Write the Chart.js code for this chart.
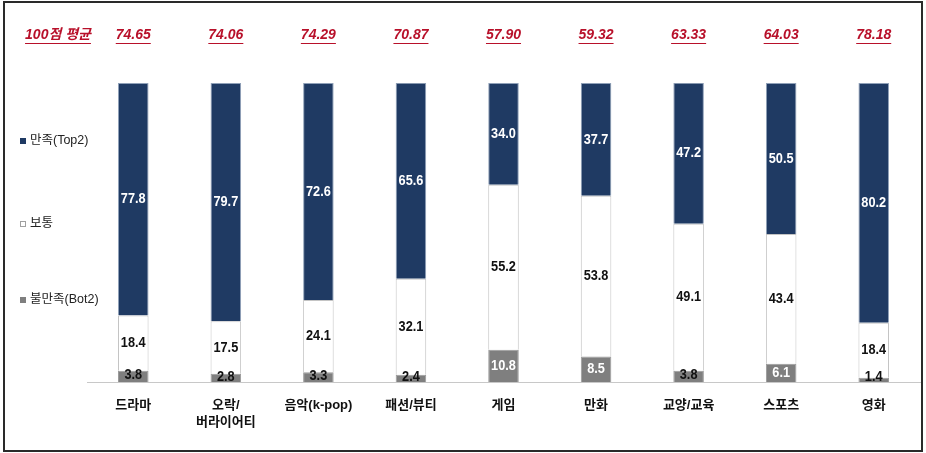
<!DOCTYPE html>
<html>
<head>
<meta charset="utf-8">
<script src="https://cdn.jsdelivr.net/npm/chart.js@4/dist/chart.umd.min.js"></script>
<style>
  body { margin: 0; background: #fff; }
  #wrap { width: 926px; height: 453px; position: relative; }
</style>
</head>
<body>
<div id="wrap"><canvas id="chart" width="926" height="453"></canvas></div>
<script>
// categories and values
const categories = ["드라마", ["오락/", "버라이어티"], "음악(k-pop)", "패션/뷰티", "게임", "만화", "교양/교육", "스포츠", "영화"];
const satisfied = [77.8, 79.7, 72.6, 65.6, 34.0, 37.7, 47.2, 50.5, 80.2];
const neutral = [18.4, 17.5, 24.1, 32.1, 55.2, 53.8, 49.1, 43.4, 18.4];
const dissatisfied = [3.8, 2.8, 3.3, 2.4, 10.8, 8.5, 3.8, 6.1, 1.4];
const averages = ["74.65", "74.06", "74.29", "70.87", "57.90", "59.32", "63.33", "64.03", "78.18"];
const avgTitle = "100점 평균";

const NAVY = "#1f3a63";
const GRAY = "#7f7f7f";
const numFont = "'Liberation Sans', Arial, sans-serif";
const krFont = "'Liberation Sans', 'Noto Sans CJK KR', sans-serif";

// frame, legend, averages and value labels
const extras = {
    id: "extras",
    beforeDraw(chart) {
        const ctx = chart.ctx;
        ctx.save();
        ctx.fillStyle = "#fff";
        ctx.fillRect(0, 0, chart.width, chart.height);
        ctx.restore();
    },
    afterDraw(chart) {
        const ctx = chart.ctx;
        const xs = chart.scales.x;
        ctx.save();

        // outer frame
        ctx.strokeStyle = "#2a2a2a";
        ctx.lineWidth = 2;
        ctx.strokeRect(4, 2, 918, 449);

        // averages row
        ctx.fillStyle = "#b8102a";
        ctx.strokeStyle = "#b8102a";
        ctx.lineWidth = 1;
        ctx.font = "italic bold 14px " + krFont;
        ctx.textAlign = "center";
        ctx.textBaseline = "middle";
        const drawUnder = (txt, x, y) => {
            ctx.fillText(txt, x, y);
            const w = ctx.measureText(txt).width;
            ctx.beginPath();
            ctx.moveTo(x - w / 2, y + 8.5);
            ctx.lineTo(x + w / 2, y + 8.5);
            ctx.stroke();
        };
        drawUnder(avgTitle, 58, 35);
        averages.forEach((a, i) => drawUnder(a, xs.getPixelForValue(i), 35));

        // legend on the left
        const legY = [141, 224, 300];
        const order = [2, 1, 0];
        ctx.font = "12.5px " + krFont;
        ctx.textAlign = "left";
        order.forEach((di, k) => {
            const ds = chart.data.datasets[di];
            ctx.fillStyle = ds.backgroundColor;
            ctx.fillRect(20, legY[k] - 3, 6, 6);
            ctx.strokeStyle = "#a0a0a0";
            ctx.lineWidth = 1;
            if (di === 1) ctx.strokeRect(20.5, legY[k] - 2.5, 5, 5);
            ctx.fillStyle = "#222";
            ctx.fillText(ds.label, 30, legY[k]);
        });

        // value labels inside segments (drawn a bit condensed)
        ctx.font = "bold 15px " + numFont;
        ctx.textAlign = "center";
        chart.data.datasets.forEach((ds, di) => {
            chart.getDatasetMeta(di).data.forEach((bar, i) => {
                const v = ds.data[i];
                let col = "#111";
                if (di === 2) col = "#fff";
                if (di === 0 && v > 5) col = "#fff";
                let y = (bar.y + bar.base) / 2;
                if (di === 0 && v < 5) y = Math.min(y - 1, 377);
                ctx.save();
                ctx.translate(bar.x, y);
                ctx.scale(0.85, 1);
                ctx.fillStyle = col;
                ctx.fillText(v.toFixed(1), 0, 0);
                ctx.restore();
            });
        });
        ctx.restore();
    }
};

new Chart(document.getElementById("chart"), {
    type: "bar",
    data: {
        labels: categories,
        datasets: [
            { label: "불만족(Bot2)", data: dissatisfied, backgroundColor: GRAY, borderColor: "#9a9a9a", borderWidth: 1 },
            { label: "보통", data: neutral, backgroundColor: "#ffffff", borderColor: "#c4c4c4", borderWidth: 1 },
            { label: "만족(Top2)", data: satisfied, backgroundColor: NAVY, borderColor: "#8fa0b8", borderWidth: 1 }
        ]
    },
    options: {
        responsive: false,
        animation: false,
        layout: { padding: { top: 83, left: 87, right: 6, bottom: 0 } },
        plugins: {
            legend: { display: false },
            tooltip: { enabled: false }
        },
        datasets: { bar: { categoryPercentage: 1, barPercentage: 0.33 } },
        scales: {
            x: {
                stacked: true,
                grid: { display: false, drawTicks: false },
                border: { display: true, color: "#c8c8c8", width: 1 },
                ticks: {
                    color: "#111",
                    padding: 15,
                    maxRotation: 0,
                    autoSkip: false,
                    font: { family: krFont, size: 13, weight: "bold", lineHeight: 1.3 }
                },
                afterFit(scale) { scale.height = 71; }
            },
            y: {
                stacked: true,
                display: false,
                min: 0,
                max: 100
            }
        }
    },
    plugins: [extras]
});
</script>
</body>
</html>
